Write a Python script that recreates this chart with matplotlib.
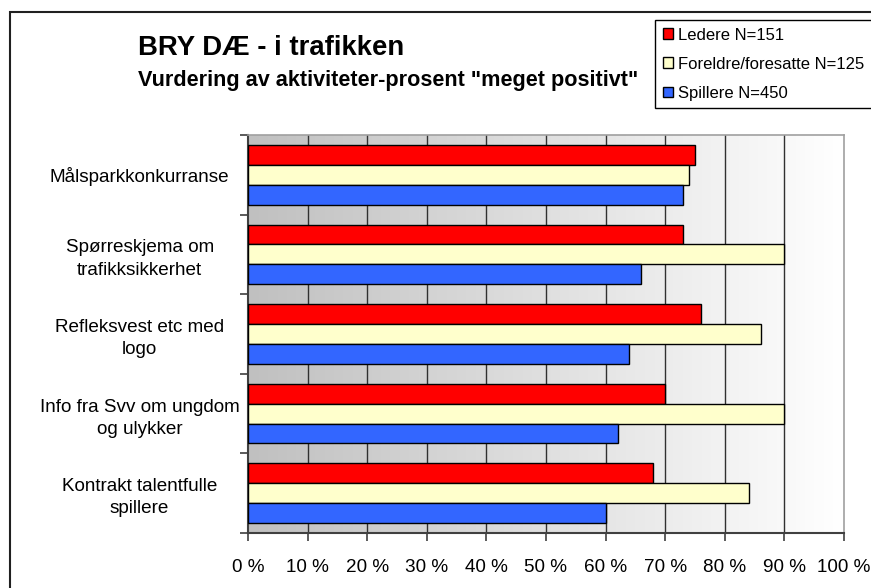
import matplotlib
matplotlib.use("Agg")
import matplotlib.pyplot as plt
import numpy as np
from matplotlib.patches import Patch, Rectangle
from matplotlib.colors import LinearSegmentedColormap

plt.rcParams['font.family'] = ['Liberation Sans', 'DejaVu Sans']

categories = ["Målsparkkonkurranse", "Spørreskjema om\ntrafikksikkerhet",
              "Refleksvest etc med\nlogo", "Info fra Svv om ungdom\nog ulykker",
              "Kontrakt talentfulle\nspillere"]
series_names = ["Ledere N=151", "Foreldre/foresatte N=125", "Spillere N=450"]
ledere = [75, 73, 76, 70, 68]
foreldre = [74, 90, 86, 90, 84]
spillere = [73, 66, 64, 62, 60]
xticks = [0, 10, 20, 30, 40, 50, 60, 70, 80, 90, 100]
xticklabels = [f"{v} %" for v in xticks]
colors = ["#FF0000", "#FFFFCC", "#3366FF"]

W, H = 871, 588
fig = plt.figure(figsize=(W / 100, H / 100), dpi=100)

# figure border
fig.patches.append(Rectangle((10 / W, -0.1), 1.2, 1 - 12 / H + 0.1, transform=fig.transFigure,
                             fill=False, edgecolor="#202020", linewidth=1.5))

ax = fig.add_axes([248 / W, 55 / H, 596 / W, 398 / H])
n = len(categories)
y = np.arange(n)
bh = 0.25
ax.set_xlim(0, 100)
ax.set_ylim(n - 0.5, -0.5)

# gradient background
grad = np.linspace(0, 1, 256).reshape(1, -1)
cmap = LinearSegmentedColormap.from_list("g", ["#C0C0C0", "#FFFFFF"])
ax.imshow(grad, extent=[0, 100, n - 0.5, -0.5], aspect="auto", cmap=cmap, zorder=0)

for xv in xticks[1:-1]:
    ax.axvline(xv, color="#303030", linewidth=1, zorder=1)

for vals, off, c, name in zip([ledere, foreldre, spillere], [-bh, 0, bh], colors, series_names):
    ax.barh(y + off, vals, height=bh, color=c, edgecolor="#000000", linewidth=1, zorder=3, label=name)

ax.set_yticks(y)
ax.set_yticklabels(categories, fontsize=13.6, ha="center", multialignment="center", linespacing=1.4)
ax.tick_params(axis="y", which="major", length=0, pad=78)
ax.set_yticks(np.arange(n + 1) - 0.5, minor=True)
ax.tick_params(axis="y", which="minor", length=6, direction="out", color="#404040", width=1.2)

ax.set_xticks(xticks)
ax.set_xticklabels(xticklabels, fontsize=13.6)
ax.tick_params(axis="x", length=6, direction="out", color="#404040", width=1.2, pad=13)

for s in ["top", "right"]:
    ax.spines[s].set_color("#A0A0A0")
    ax.spines[s].set_linewidth(1.2)
for s in ["left", "bottom"]:
    ax.spines[s].set_color("#404040")
    ax.spines[s].set_linewidth(1.5)

fig.text(138 / W, 1 - 55 / H, "BRY DÆ - i trafikken", fontsize=19.8, fontweight="bold",
         ha="left", va="baseline")
fig.text(138 / W, 1 - 86 / H, 'Vurdering av aktiviteter-prosent "meget positivt"', fontsize=15.6,
         fontweight="bold", ha="left", va="baseline")

handles = [Patch(facecolor=c, edgecolor="#000000", linewidth=1) for c in colors]
leg = fig.legend(handles, series_names, loc="upper left", bbox_to_anchor=(655 / W, 1 - 20 / H),
                 fontsize=12, frameon=True, fancybox=False, edgecolor="#000000", framealpha=1,
                 handlelength=0.6, handleheight=0.6, handletextpad=0.35, labelspacing=0.85,
                 borderpad=0.45, borderaxespad=0)
leg.get_frame().set_linewidth(1)

fig.savefig("out.png", dpi=100)
